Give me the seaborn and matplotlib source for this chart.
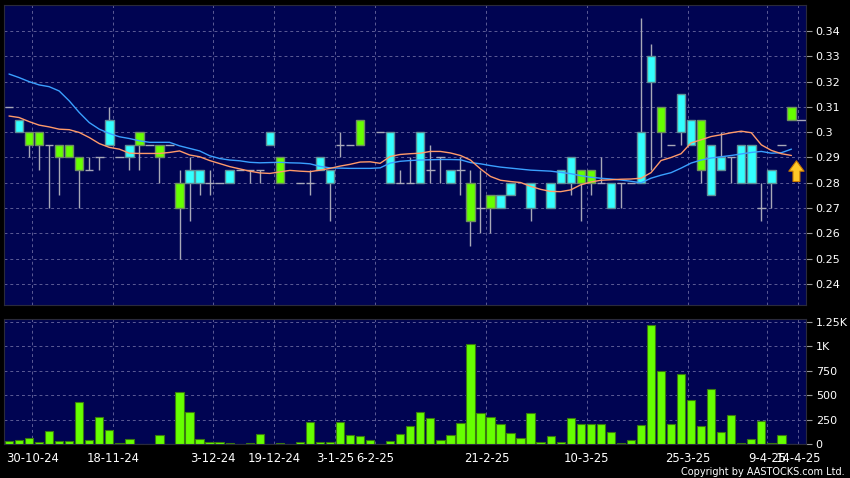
import numpy as np
import pandas as pd
import seaborn as sns
import matplotlib
matplotlib.use("Agg")
import matplotlib.pyplot as plt
from matplotlib.ticker import FuncFormatter

nan = np.nan

# daily candles (one slot per trading day)
opens = [0.31, 0.30, 0.30, 0.30, 0.295, 0.295, 0.295, 0.29, 0.285, 0.29,
         0.295, 0.29, 0.29, 0.30, 0.295, 0.295, 0.295, 0.28, 0.28, 0.28,
         0.28, 0.28, 0.28, 0.285, 0.285, 0.285, 0.295, 0.29, nan, 0.28,
         0.28, 0.285, 0.28, 0.295, 0.295, 0.305, nan, 0.30, 0.28, 0.28,
         0.28, 0.28, 0.285, 0.29, 0.28, 0.285, 0.28, 0.27, 0.275, 0.27,
         0.275, nan, 0.27, nan, 0.27, 0.28, 0.28, 0.285, 0.285, 0.28,
         0.27, 0.28, 0.28, 0.28, 0.32, 0.31, 0.295, 0.30, 0.295, 0.305,
         0.275, 0.285, 0.29, 0.28, 0.28, 0.27, 0.28, 0.295, 0.31]
highs = [0.31, 0.305, 0.30, 0.30, 0.295, 0.295, 0.295, 0.29, 0.29, 0.29,
         0.31, 0.29, 0.295, 0.30, 0.295, 0.295, 0.295, 0.285, 0.29, 0.285,
         0.285, 0.28, 0.285, 0.285, 0.285, 0.285, 0.30, 0.29, nan, 0.28,
         0.285, 0.29, 0.285, 0.30, 0.295, 0.305, nan, 0.30, 0.30, 0.285,
         0.29, 0.30, 0.295, 0.29, 0.285, 0.29, 0.285, 0.285, 0.275, 0.275,
         0.28, nan, 0.28, nan, 0.28, 0.285, 0.29, 0.285, 0.285, 0.29,
         0.28, 0.28, 0.28, 0.345, 0.335, 0.31, 0.295, 0.315, 0.305, 0.305,
         0.295, 0.30, 0.29, 0.295, 0.295, 0.28, 0.285, 0.295, 0.31]
lows = [0.31, 0.30, 0.29, 0.285, 0.27, 0.275, 0.29, 0.27, 0.285, 0.285,
        0.295, 0.29, 0.285, 0.285, 0.295, 0.28, 0.295, 0.25, 0.265, 0.275,
        0.275, 0.28, 0.28, 0.285, 0.28, 0.28, 0.295, 0.28, nan, 0.28,
        0.275, 0.285, 0.265, 0.29, 0.295, 0.295, nan, 0.30, 0.28, 0.28,
        0.28, 0.28, 0.28, 0.28, 0.28, 0.275, 0.255, 0.26, 0.26, 0.27,
        0.275, nan, 0.265, nan, 0.27, 0.28, 0.275, 0.265, 0.275, 0.28,
        0.27, 0.27, 0.28, 0.28, 0.285, 0.29, 0.295, 0.295, 0.295, 0.28,
        0.275, 0.285, 0.28, 0.28, 0.28, 0.265, 0.27, 0.295, 0.305]
closes = [0.31, 0.305, 0.295, 0.295, 0.295, 0.29, 0.29, 0.285, 0.285, 0.29,
          0.305, 0.29, 0.295, 0.295, 0.295, 0.29, 0.295, 0.27, 0.285, 0.285,
          0.28, 0.28, 0.285, 0.285, 0.285, 0.285, 0.30, 0.28, nan, 0.28,
          0.28, 0.29, 0.285, 0.295, 0.295, 0.295, nan, 0.30, 0.30, 0.28,
          0.28, 0.30, 0.285, 0.29, 0.285, 0.285, 0.265, 0.27, 0.27, 0.275,
          0.28, nan, 0.28, nan, 0.28, 0.285, 0.29, 0.28, 0.28, 0.28,
          0.28, 0.28, 0.28, 0.30, 0.33, 0.30, 0.295, 0.315, 0.305, 0.285,
          0.295, 0.29, 0.29, 0.295, 0.295, 0.27, 0.285, 0.295, 0.305]

# moving averages
ma_short = [0.3064, 0.3058, 0.3042, 0.3028, 0.3021, 0.3012, 0.3010, 0.2999, 0.2979, 0.2955,
            0.2940, 0.2933, 0.2917, 0.2916, 0.2916, 0.2916, 0.2920, 0.2926, 0.2910, 0.2903,
            0.2888, 0.2876, 0.2864, 0.2855, 0.2846, 0.2839, 0.2837, 0.2843, 0.2849, 0.2846,
            0.2844, 0.2850, 0.2857, 0.2866, 0.2873, 0.2882, 0.2883, 0.2877, 0.2904, 0.2912,
            0.2915, 0.2917, 0.2924, 0.2924, 0.2918, 0.2908, 0.2890, 0.2855, 0.2825, 0.2810,
            0.2805, 0.2801, 0.2786, 0.2774, 0.2766, 0.2765, 0.2772, 0.2792, 0.2803, 0.2810,
            0.2812, 0.2814, 0.2815, 0.2818, 0.2840, 0.2888, 0.2900, 0.2915, 0.2958, 0.2970,
            0.2983, 0.2990, 0.2998, 0.3004, 0.2998, 0.2950, 0.2928, 0.2915, 0.2908]
ma_long = [0.3230, 0.3216, 0.3200, 0.3187, 0.3180, 0.3163, 0.3124, 0.3078, 0.3038, 0.3012,
           0.2995, 0.2982, 0.2975, 0.2966, 0.2960, 0.2960, 0.2960, 0.2946, 0.2936, 0.2926,
           0.2907, 0.2896, 0.2890, 0.2887, 0.2881, 0.2879, 0.2880, 0.2881, 0.2879, 0.2878,
           0.2875, 0.2865, 0.2859, 0.2858, 0.2857, 0.2857, 0.2857, 0.2859, 0.2878, 0.2885,
           0.2888, 0.2890, 0.2891, 0.2892, 0.2892, 0.2891, 0.2880, 0.2875, 0.2868, 0.2862,
           0.2858, 0.2854, 0.2850, 0.2848, 0.2846, 0.2841, 0.2836, 0.2828, 0.2822, 0.2818,
           0.2815, 0.2811, 0.2806, 0.2800, 0.2818, 0.2830, 0.2840, 0.2858, 0.2878, 0.2890,
           0.2898, 0.2903, 0.2908, 0.2914, 0.2920, 0.2924, 0.2917, 0.2919, 0.2933]

volume = [34, 38, 65, 24, 138, 28, 31, 434, 38, 279,
          148, 10, 52, 3, 0, 96, 0, 537, 330, 52,
          17, 21, 10, 0, 7, 100, 3, 14, 0, 24,
          227, 24, 17, 224, 96, 86, 38, 3, 34, 107,
          186, 324, 269, 38, 96, 213, 1026, 320, 279, 200,
          114, 59, 317, 21, 79, 17, 265, 210, 203, 203,
          127, 10, 38, 196, 1222, 751, 203, 716, 455, 186,
          565, 124, 300, 14, 55, 231, 14, 90, 0]

date_pos = [2.3, 10.4, 20.3, 26.4, 32.5, 36.5, 47.6, 57.6, 67.7, 75.6, 78.7]
date_labels = ["30-10-24", "18-11-24", "3-12-24", "19-12-24", "3-1-25", "6-2-25",
               "21-2-25", "10-3-25", "25-3-25", "9-4-25", "14-4-25"]
price_ticks = [0.24, 0.25, 0.26, 0.27, 0.28, 0.29, 0.30, 0.31, 0.32, 0.33, 0.34]
vol_ticks = [0, 250, 500, 750, 1000, 1250]
vol_labels = ["0", "250", "500", "750", "1K", "1.25K"]

df = pd.DataFrame({"open": opens, "high": highs, "low": lows, "close": closes,
                   "ma_short": ma_short, "ma_long": ma_long, "volume": volume})
df["slot"] = np.arange(len(df))

BG = "#000452"
GRID = "#5c5c96"
CYAN = "#33ffff"
GREEN = "#66ff00"
WICK = "#a8a8b8"

sns.set_theme(style="dark")
plt.rcParams["font.family"] = ["DejaVu Sans"]

fig = plt.figure(figsize=(8.5, 4.78), dpi=100, facecolor="black")
ax = fig.add_axes([0.0047, 0.362, 0.9435, 0.6276])
axv = fig.add_axes([0.0047, 0.0711, 0.9435, 0.2615])

for a in (ax, axv):
    a.set_facecolor(BG)
    for s in a.spines.values():
        s.set_color("#2a2a3a")
        s.set_linewidth(0.8)
    a.set_axisbelow(True)

# --- price panel ---
up = df[df["close"] > df["open"]]
down = df[df["close"] < df["open"]]
flat = df[df["close"] == df["open"]]
bw = 0.84

ax.vlines(df["slot"], df["low"], df["high"], color=WICK, lw=1, zorder=2)
ax.hlines(flat["open"], flat["slot"] - bw / 2, flat["slot"] + bw / 2, color=WICK, lw=1, zorder=2)
ax.bar(up["slot"], up["close"] - up["open"], bottom=up["open"], width=bw,
       color=CYAN, edgecolor="#5f8f96", lw=1, zorder=3)
ax.bar(down["slot"], down["open"] - down["close"], bottom=down["close"], width=bw,
       color=GREEN, edgecolor="#6f8f60", lw=1, zorder=3)

sns.lineplot(data=df, x="slot", y="ma_long", color="#3aa0ff", lw=1, ax=ax, zorder=4)
sns.lineplot(data=df, x="slot", y="ma_short", color="#ff9a6a", lw=1, ax=ax, zorder=4)

# last price marker and signal arrow
last = df.iloc[-1]
ax.hlines(last["close"], last["slot"] + bw / 2, last["slot"] + 1.6, color=WICK, lw=1, zorder=2)
ax.annotate("", xy=(last["slot"] + 0.5, 0.2898), xytext=(last["slot"] + 0.5, 0.2794),
            arrowprops=dict(arrowstyle="simple,head_width=1.1,head_length=0.75,tail_width=0.5",
                            fc="#ffc828", ec="#c87800", lw=0.8, mutation_scale=10), zorder=5)

ax.set_xlim(-0.5, 79.45)
ax.set_ylim(0.2317, 0.3503)
ax.set_xticks(date_pos)
ax.set_yticks(price_ticks)
ax.yaxis.tick_right()
ax.yaxis.set_major_formatter(FuncFormatter(lambda v, p: "%g" % round(v, 2)))
ax.tick_params(axis="x", length=0, labelbottom=False)
ax.tick_params(axis="y", length=4, width=0.8, color="#9a9a9a", pad=3,
               labelcolor="white", labelsize=8)
ax.grid(True, color=GRID, ls=(0, (3, 3)), lw=0.7)
ax.set_xlabel("")
ax.set_ylabel("")

# --- volume panel ---
sns.barplot(data=df, x="slot", y="volume", native_scale=True, width=0.83,
            color=GREEN, edgecolor="#3a7a10", linewidth=0.8, saturation=1, ax=axv, zorder=3)
axv.set_xlim(-0.5, 79.45)
axv.set_ylim(0, 1281)
axv.set_yticks(vol_ticks)
axv.set_yticklabels(vol_labels)
axv.yaxis.tick_right()
axv.set_xticks(date_pos)
axv.set_xticklabels(date_labels)
axv.tick_params(axis="x", length=4, width=0.8, color="#9a9a9a", pad=1.5,
                labelcolor="white", labelsize=8.4)
axv.tick_params(axis="y", length=4, width=0.8, color="#9a9a9a", pad=3,
                labelcolor="white", labelsize=8)
axv.grid(True, color=GRID, ls=(0, (3, 3)), lw=0.7)
axv.set_xlabel("")
axv.set_ylabel("")

fig.text(0.994, 0.002, "Copyright by AASTOCKS.com Ltd.", ha="right", va="bottom",
         color="white", fontsize=7)

fig.savefig("out.png", dpi=100, facecolor="black")
